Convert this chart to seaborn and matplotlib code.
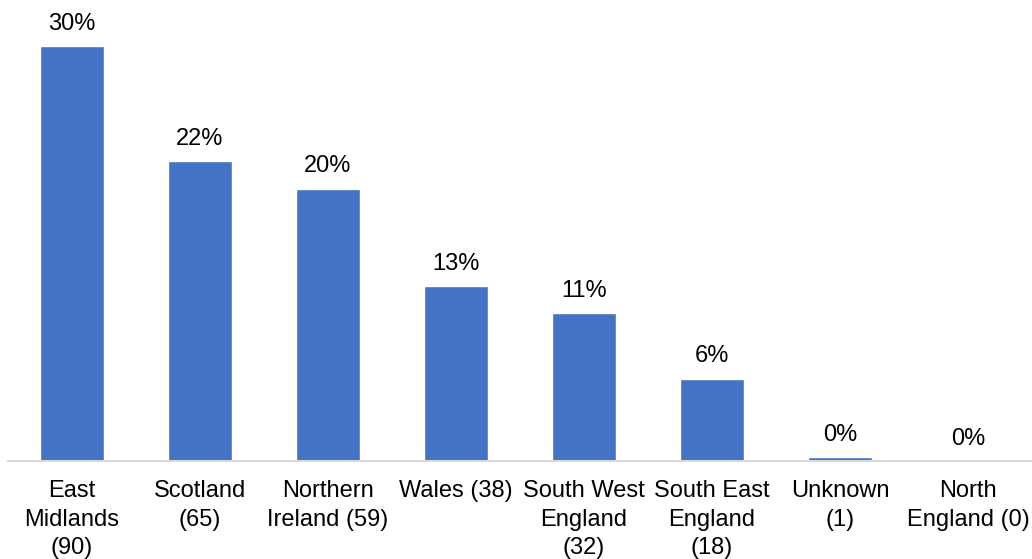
import matplotlib
matplotlib.use("Agg")
import matplotlib.pyplot as plt
import seaborn as sns
import pandas as pd

categories = ["East\nMidlands\n(90)", "Scotland\n(65)", "Northern\nIreland (59)", "Wales (38)",
              "South West\nEngland\n(32)", "South East\nEngland\n(18)", "Unknown\n(1)", "North\nEngland (0)"]
values = [29.7, 21.5, 19.5, 12.5, 10.6, 5.9, 0.3, 0.0]
labels = ["30%", "22%", "20%", "13%", "11%", "6%", "0%", "0%"]

sns.set_style("white")
plt.rcParams['font.family'] = ['Liberation Sans', 'DejaVu Sans']

df = pd.DataFrame({"cat": categories, "val": values})

W, H = 1032, 559
fig = plt.figure(figsize=(W / 100, H / 100), dpi=100)
ax = fig.add_axes([8 / W, 1 - 461 / H, 1 - 8 / W, 461 / H])
sns.barplot(data=df, x="cat", y="val", color="#4472C4", width=0.5, saturation=1, ax=ax)
ax.set_ylim(0, 33)
ax.set_xlim(-0.5, len(categories) - 0.5)

for i, (v, lab) in enumerate(zip(values, labels)):
    ax.annotate(lab, (i, v), xytext=(0, 8), textcoords="offset points",
                ha="center", va="bottom", fontsize=17, color="#000000")

ax.set_xlabel("")
ax.set_ylabel("")
ax.set_yticks([])
ax.tick_params(axis="x", length=0, pad=14, labelsize=17, labelcolor="#000000")
for t in ax.get_xticklabels():
    t.set_linespacing(1.36)
    t.set_va("top")
for s in ["top", "right", "left"]:
    ax.spines[s].set_visible(False)
ax.spines["bottom"].set_color("#D9D9D9")
ax.spines["bottom"].set_linewidth(1.5)

fig.savefig("out.png", dpi=100)
